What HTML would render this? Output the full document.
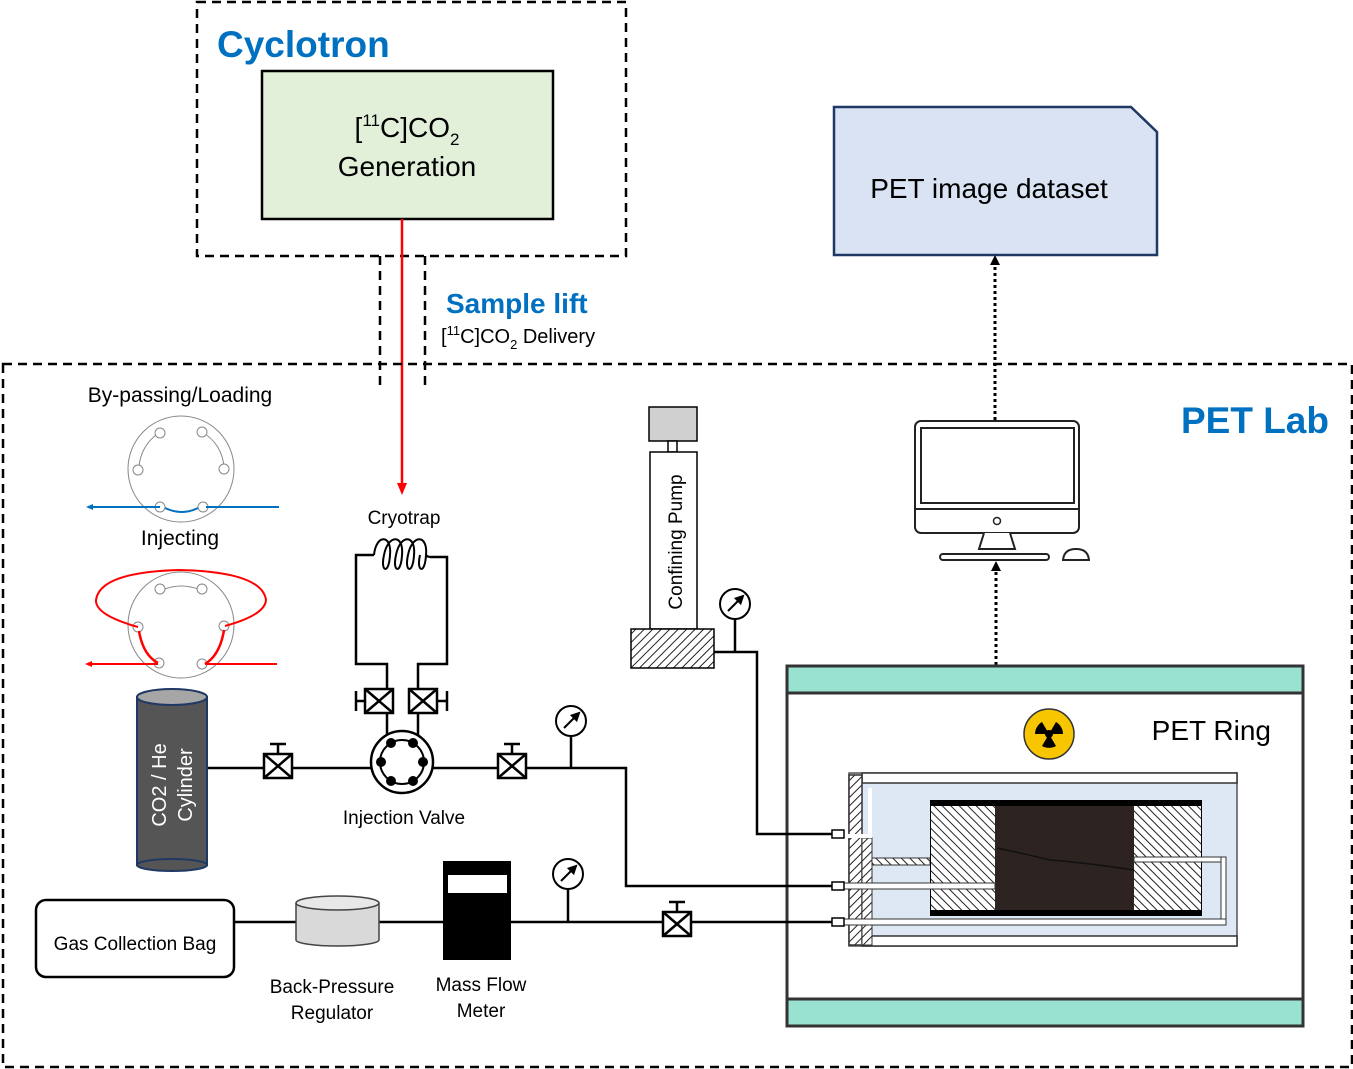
<!DOCTYPE html>
<html><head><meta charset="utf-8"><style>
html,body{margin:0;padding:0;background:#fff;}
svg{display:block;font-family:"Liberation Sans",sans-serif;}
</style></head><body>
<svg width="1353" height="1069" viewBox="0 0 1353 1069" xmlns="http://www.w3.org/2000/svg">
<defs>
<pattern id="h1" width="6" height="6" patternUnits="userSpaceOnUse" patternTransform="rotate(45)"><rect width="6" height="6" fill="#fff"/><line x1="0" y1="0" x2="0" y2="6" stroke="#222" stroke-width="2"/></pattern>
<pattern id="h2" width="6" height="6" patternUnits="userSpaceOnUse" patternTransform="rotate(-45)"><rect width="6" height="6" fill="#fff"/><line x1="0" y1="0" x2="0" y2="6" stroke="#222" stroke-width="2"/></pattern>
<marker id="ar" markerUnits="userSpaceOnUse" markerWidth="12" markerHeight="12" refX="6" refY="6" orient="auto"><path d="M0,1 L12,6 L0,11 z" fill="#f00"/></marker>
<marker id="ak" markerUnits="userSpaceOnUse" markerWidth="10" markerHeight="10" refX="5" refY="5" orient="auto"><path d="M0,0 L10,5 L0,10 z" fill="#000"/></marker>
<g id="valve"><rect x="-14" y="-12" width="28" height="24" fill="#fff" stroke="#000" stroke-width="2.5"/><path d="M-14,-12 L14,12 M14,-12 L-14,12" stroke="#000" stroke-width="2.5"/></g>
<g id="gauge"><circle r="15" fill="#fff" stroke="#000" stroke-width="2"/><line x1="-7" y1="7" x2="6" y2="-6" stroke="#000" stroke-width="2" marker-end="url(#ak)"/></g>
</defs>

<rect x="197" y="2" width="429" height="254" fill="none" stroke="#000" stroke-width="2.5" stroke-dasharray="9,6"/>
<text x="217" y="57" font-size="37" font-weight="bold" fill="#0070c0">Cyclotron</text>
<rect x="262" y="71" width="291" height="148" fill="#e2efd9" stroke="#000" stroke-width="2.5"/>
<text x="407" y="137" font-size="28" text-anchor="middle">[<tspan font-size="17" dy="-11">11</tspan><tspan dy="11">C]CO</tspan><tspan font-size="17" dy="8">2</tspan></text>
<text x="407" y="176" font-size="28" text-anchor="middle">Generation</text>

<line x1="380" y1="256" x2="380" y2="390" stroke="#000" stroke-width="2.5" stroke-dasharray="9,6"/>
<line x1="425" y1="256" x2="425" y2="390" stroke="#000" stroke-width="2.5" stroke-dasharray="9,6"/>
<line x1="402" y1="219" x2="402" y2="489" stroke="#f00" stroke-width="2.5" marker-end="url(#ar)"/>
<text x="446" y="313" font-size="28" font-weight="bold" fill="#0070c0">Sample lift</text>
<text x="441" y="343" font-size="20">[<tspan font-size="13" dy="-8">11</tspan><tspan dy="8">C]CO</tspan><tspan font-size="13" dy="6">2</tspan><tspan dy="-6"> Delivery</tspan></text>

<rect x="3" y="364" width="1349" height="703" fill="none" stroke="#000" stroke-width="2.5" stroke-dasharray="9,6"/>
<text x="1329" y="433" font-size="37" font-weight="bold" fill="#0070c0" text-anchor="end">PET Lab</text>

<path d="M834,107 L1131,107 L1157,132 L1157,255 L834,255 Z" fill="#dae3f3" stroke="#1f3864" stroke-width="2.5"/>
<text x="989" y="198" font-size="28" text-anchor="middle">PET image dataset</text>
<line x1="995" y1="420" x2="995" y2="260" stroke="#000" stroke-width="3" stroke-dasharray="3,3" marker-end="url(#ak)"/>
<line x1="996" y1="665" x2="996" y2="566" stroke="#000" stroke-width="3" stroke-dasharray="3,3" marker-end="url(#ak)"/>

<rect x="915" y="421" width="164" height="112" rx="6" fill="#fff" stroke="#222" stroke-width="2"/>
<rect x="921" y="428" width="153" height="75" fill="#fff" stroke="#222" stroke-width="2"/>
<line x1="915" y1="509" x2="1079" y2="509" stroke="#222" stroke-width="2"/>
<circle cx="997" cy="521" r="3.5" fill="none" stroke="#222" stroke-width="1.5"/>
<path d="M984,533 L979,549 L1015,549 L1010,533" fill="#fff" stroke="#222" stroke-width="2"/>
<rect x="940" y="554" width="109" height="6" rx="3" fill="#fff" stroke="#222" stroke-width="2"/>
<path d="M1063,560 Q1064,549 1076,549 Q1088,549 1089,560 Z" fill="#fff" stroke="#222" stroke-width="2"/>

<rect x="787" y="666" width="516" height="360" fill="#fff" stroke="#333" stroke-width="3"/>
<rect x="787" y="666" width="516" height="27" fill="#99e2d1" stroke="#333" stroke-width="3"/>
<rect x="787" y="999" width="516" height="27" fill="#99e2d1" stroke="#333" stroke-width="3"/>
<text x="1271" y="740" font-size="28" text-anchor="end">PET Ring</text>
<circle cx="1049" cy="734" r="25" fill="#f7c600" stroke="#333" stroke-width="1.5"/>
<circle cx="1049" cy="734" r="4" fill="#000"/>
<path d="M1049,734 L1063,734 A14,14 0 0 0 1056,722 Z M1049,734 L1042,722 A14,14 0 0 0 1035,734 Z M1049,734 L1056,746 A14,14 0 0 1 1042,746 Z" fill="#000"/>

<rect x="849" y="773" width="388" height="173" fill="#dde8f4" stroke="#555" stroke-width="1.5"/>
<rect x="862" y="773" width="375" height="10" fill="#fff" stroke="#333" stroke-width="1.5"/>
<rect x="862" y="936" width="375" height="10" fill="#fff" stroke="#333" stroke-width="1.5"/>
<rect x="849" y="775" width="13" height="170" fill="url(#h1)" stroke="#333" stroke-width="1.5"/>
<rect x="862" y="838" width="10" height="107" fill="url(#h1)" stroke="#333" stroke-width="1"/>
<rect x="872" y="858" width="58" height="7" fill="url(#h2)" stroke="#333" stroke-width="1"/>
<rect x="930" y="800" width="272" height="116" fill="#000"/>
<rect x="931" y="806" width="64" height="104" fill="url(#h2)"/>
<rect x="1134" y="806" width="67" height="104" fill="url(#h2)"/>
<rect x="995" y="806" width="139" height="104" fill="#2d2320"/>
<path d="M997,848 Q1030,855 1050,860 Q1080,862 1134,870" stroke="#111" stroke-width="1.5" fill="none"/>
<rect x="1134" y="857" width="90" height="5" fill="#fff" stroke="#333" stroke-width="1"/>
<rect x="1221" y="857" width="5" height="66" fill="#fff" stroke="#333" stroke-width="1"/>
<rect x="843" y="883" width="152" height="6" fill="#fff" stroke="#333" stroke-width="1"/>
<rect x="843" y="919" width="383" height="6" fill="#fff" stroke="#333" stroke-width="1"/>
<path d="M843,836 L870,836 L870,788" stroke="#fff" stroke-width="4" fill="none"/>
<rect x="832" y="830" width="12" height="8" fill="#fff" stroke="#000" stroke-width="1.5"/>
<rect x="832" y="882" width="12" height="8" fill="#fff" stroke="#000" stroke-width="1.5"/>
<rect x="832" y="918" width="12" height="8" fill="#fff" stroke="#000" stroke-width="1.5"/>

<rect x="649" y="407" width="48" height="34" fill="#d0d0d0" stroke="#000" stroke-width="1.5"/>
<rect x="668" y="441" width="9" height="11" fill="#fff" stroke="#000" stroke-width="1.5"/>
<rect x="650" y="452" width="47" height="177" fill="#fff" stroke="#000" stroke-width="1.5"/>
<text transform="translate(682,542) rotate(-90)" font-size="19" text-anchor="middle">Confining Pump</text>
<rect x="631" y="629" width="83" height="39" fill="url(#h1)" stroke="#000" stroke-width="1.5"/>
<path d="M714,652 L757,652 L757,834 L832,834" stroke="#000" stroke-width="2.5" fill="none"/>
<line x1="735" y1="619" x2="735" y2="652" stroke="#000" stroke-width="2.5"/>
<use href="#gauge" x="735" y="604"/>

<path d="M208,768 L626,768 L626,886 L832,886" stroke="#000" stroke-width="2.5" fill="none"/>
<line x1="234" y1="922" x2="832" y2="922" stroke="#000" stroke-width="2.5"/>
<line x1="571" y1="736" x2="571" y2="768" stroke="#000" stroke-width="2.5"/>
<use href="#gauge" x="571" y="721"/>
<line x1="568" y1="889" x2="568" y2="922" stroke="#000" stroke-width="2.5"/>
<use href="#gauge" x="568" y="874"/>
<use href="#valve" x="278" y="766"/>
<path d="M278,754 V744 M270,744 H286" stroke="#000" stroke-width="2.5"/>
<use href="#valve" x="512" y="766"/>
<path d="M512,754 V744 M504,744 H520" stroke="#000" stroke-width="2.5"/>
<use href="#valve" x="677" y="924"/>
<path d="M677,912 V902 M669,902 H685" stroke="#000" stroke-width="2.5"/>

<text x="404" y="524" font-size="19" text-anchor="middle">Cryotrap</text>
<path d="M387,740 L387,664 L356,664 L356,555 L374,555" stroke="#000" stroke-width="2.5" fill="none"/>
<path d="M418,740 L418,664 L447,664 L447,557 L430,557" stroke="#000" stroke-width="2.5" fill="none"/>
<path d="M374,555 C376,534 392,534 390,555 C389,575 380,572 384,555 C388,534 404,534 402,555 C401,575 392,572 396,555 C400,534 416,534 414,555 C413,575 404,572 408,555 C412,534 428,534 426,555 C425,575 416,572 420,555 M426,555 C428,557 429,557 430,557" stroke="#000" stroke-width="2" fill="none"/>
<use href="#valve" x="379" y="701"/>
<path d="M365,701 H356 M356,691 V711" stroke="#000" stroke-width="2.5"/>
<use href="#valve" x="423" y="701"/>
<path d="M437,701 H447 M447,691 V711" stroke="#000" stroke-width="2.5"/>
<circle cx="402" cy="762" r="31" fill="#fff" stroke="#000" stroke-width="2.5"/>
<circle cx="402" cy="762" r="22" fill="none" stroke="#000" stroke-width="2"/>
<g fill="#000"><circle cx="391" cy="743" r="5"/><circle cx="413" cy="743" r="5"/><circle cx="381" cy="762" r="5"/><circle cx="423" cy="762" r="5"/><circle cx="391" cy="781" r="5"/><circle cx="413" cy="781" r="5"/></g>
<text x="404" y="824" font-size="19" text-anchor="middle">Injection Valve</text>

<text x="180" y="402" font-size="21" text-anchor="middle">By-passing/Loading</text>
<circle cx="181" cy="469" r="53" fill="none" stroke="#888" stroke-width="1"/>
<path d="M139,469 A43,43 0 0 1 159,433 M202,432 A43,43 0 0 1 224,468" stroke="#888" fill="none"/>
<g fill="#fff" stroke="#888"><circle cx="160" cy="433" r="5"/><circle cx="202" cy="432" r="5"/><circle cx="138" cy="470" r="5"/><circle cx="224" cy="469" r="5"/><circle cx="160" cy="507" r="5"/><circle cx="203" cy="507" r="5"/></g>
<path d="M165,508 Q182,516 198,508" stroke="#0070c0" stroke-width="2" fill="none"/>
<line x1="160" y1="507" x2="88" y2="507" stroke="#0070c0" stroke-width="2"/><path d="M86,507 l7,-3 v6z" fill="#0070c0"/>
<line x1="279" y1="507" x2="206" y2="507" stroke="#0070c0" stroke-width="2"/>
<text x="180" y="545" font-size="21" text-anchor="middle">Injecting</text>
<circle cx="181" cy="625" r="53" fill="none" stroke="#888" stroke-width="1"/>
<path d="M165,589 Q181,583 198,589" stroke="#888" fill="none"/>
<g fill="#fff" stroke="#888"><circle cx="160" cy="589" r="5"/><circle cx="202" cy="589" r="5"/><circle cx="138" cy="627" r="5"/><circle cx="224" cy="626" r="5"/><circle cx="159" cy="663" r="5"/><circle cx="202" cy="664" r="5"/></g>
<path d="M138,627 Q95,615 96,600 Q100,572 180,570 Q262,572 266,600 Q265,615 225,626" stroke="#f00" stroke-width="2" fill="none"/>
<path d="M139,631 Q143,655 158,663 M224,630 Q220,655 205,664" stroke="#f00" stroke-width="2.5" fill="none"/>
<line x1="158" y1="664" x2="88" y2="664" stroke="#f00" stroke-width="2"/><path d="M85,664 l7,-3 v6z" fill="#f00"/>
<line x1="277" y1="664" x2="205" y2="664" stroke="#f00" stroke-width="2"/>

<rect x="137" y="697" width="70" height="168" fill="#555" stroke="#1f3864" stroke-width="2"/>
<ellipse cx="172" cy="865" rx="35" ry="6" fill="#555" stroke="#1f3864" stroke-width="2"/>
<ellipse cx="172" cy="697" rx="35" ry="8" fill="#a6a6a6" stroke="#1f3864" stroke-width="2"/>
<text transform="translate(166,785) rotate(-90)" font-size="20" fill="#fff" text-anchor="middle">CO2 / He</text>
<text transform="translate(192,785) rotate(-90)" font-size="20" fill="#fff" text-anchor="middle">Cylinder</text>

<rect x="36" y="900" width="198" height="77" rx="10" fill="#fff" stroke="#000" stroke-width="2.5"/>
<text x="135" y="950" font-size="19" text-anchor="middle">Gas Collection Bag</text>
<path d="M296,903 L296,940 A41.5,6 0 0 0 379,940 L379,903" fill="#d9d9d9" stroke="#444" stroke-width="1.5"/>
<ellipse cx="337.5" cy="903" rx="41.5" ry="7" fill="#e8e8e8" stroke="#444" stroke-width="1.5"/>
<text x="332" y="993" font-size="19" text-anchor="middle">Back-Pressure</text>
<text x="332" y="1019" font-size="19" text-anchor="middle">Regulator</text>
<rect x="443" y="861" width="68" height="99" fill="#000"/>
<rect x="448" y="875" width="59" height="18" fill="#fff"/>
<text x="481" y="991" font-size="19" text-anchor="middle">Mass Flow</text>
<text x="481" y="1017" font-size="19" text-anchor="middle">Meter</text>
</svg>
</body></html>
